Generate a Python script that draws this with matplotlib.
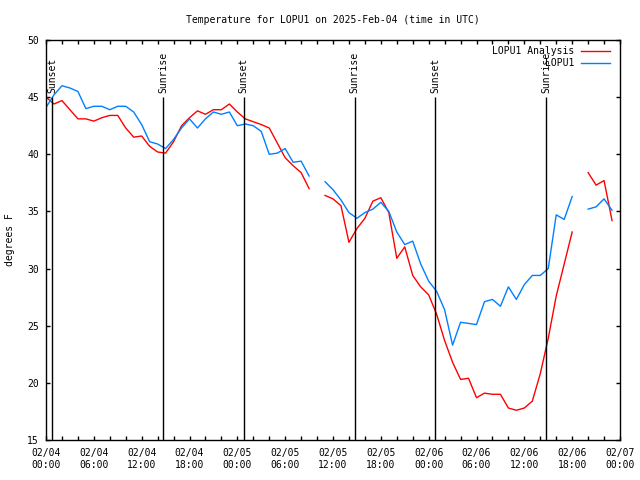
#!/usr/bin/env python3
"""
plot.py: hourly temperature for LOPU1, analysis vs station, with sun events.
"""

import numpy as np
import pandas as pd
import matplotlib
matplotlib.use("Agg")
import matplotlib.pyplot as plt
import matplotlib.dates as mdates

nan = np.nan

start = "2025-02-04 00:00"

# hourly values, degrees F (nan = missing hour)
analysis_f = [
    45.0, 44.4, 44.7, 43.9, 43.1, 43.1, 42.9, 43.2, 43.4, 43.4, 42.3, 41.5,
    41.6, 40.7, 40.2, 40.1, 41.1, 42.5, 43.2, 43.8, 43.5, 43.9, 43.9, 44.4,
    43.7, 43.1, 42.85, 42.6, 42.3, 41.0, 39.7, 39.0, 38.4, 37.0, nan, 36.4,
    36.1, 35.5, 32.3, 33.5, 34.4, 35.9, 36.2, 34.9, 30.9, 31.9, 29.4, 28.4,
    27.7, 26.0, 23.7, 21.8, 20.3, 20.4, 18.7, 19.1, 19.0, 19.0, 17.8, 17.6,
    17.8, 18.4, 20.8, 23.9, 27.6, 30.4, 33.2, nan, 38.4, 37.3, 37.7, 34.2,
]
station_f = [
    44.1, 45.2, 46.0, 45.8, 45.5, 44.0, 44.2, 44.2, 43.9, 44.2, 44.2, 43.7,
    42.6, 41.1, 40.9, 40.5, 41.3, 42.3, 43.1, 42.3, 43.1, 43.7, 43.5, 43.7,
    42.5, 42.65, 42.5, 42.0, 40.0, 40.1, 40.5, 39.3, 39.4, 38.1, nan, 37.6,
    36.9, 36.0, 34.9, 34.4, 34.9, 35.2, 35.8, 35.0, 33.2, 32.1, 32.4, 30.4,
    28.9, 28.0, 26.4, 23.3, 25.3, 25.2, 25.1, 27.1, 27.3, 26.7, 28.4, 27.3,
    28.6, 29.4, 29.4, 30.0, 34.7, 34.3, 36.3, nan, 35.2, 35.4, 36.1, 35.1,
]

sun_times = [
    "2025-02-04 00:47", "2025-02-04 14:43", "2025-02-05 00:47",
    "2025-02-05 14:42", "2025-02-06 00:49", "2025-02-06 14:46",
]
sun_labels = ["Sunset", "Sunrise", "Sunset", "Sunrise", "Sunset", "Sunrise"]

FONT = "DejaVu Sans Mono"
FS = 7

def main():
    plt.rcParams['font.family'] = FONT
    plt.rcParams['font.size'] = FS

    times = pd.date_range(start, periods=len(analysis_f), freq="h")
    suns = pd.to_datetime(sun_times)

    fig = plt.figure(figsize=(6.4, 4.8), dpi=100)
    ax = fig.add_axes([46 / 640, 40 / 480, 574 / 640, 400 / 480])

    ax.plot(times, analysis_f, color="#ff0000", lw=1.0, label="LOPU1 Analysis")
    ax.plot(times, station_f, color="#0080ff", lw=1.0, label="LOPU1")

    # sunrise / sunset markers
    ax.vlines(suns, 15, 45, color="black", lw=1.0)
    for t, lab in zip(suns, sun_labels):
        ax.text(t, 45.4, lab, rotation=90, ha="center", va="bottom", fontsize=FS)

    ax.set_xlim(pd.Timestamp("2025-02-04 00:00"), pd.Timestamp("2025-02-07 00:00"))
    ax.set_ylim(15, 50)
    ax.set_yticks(np.arange(15, 51, 5))
    ax.xaxis.set_major_locator(mdates.HourLocator(byhour=[0, 6, 12, 18]))
    ax.xaxis.set_minor_locator(mdates.HourLocator(interval=2))
    ax.xaxis.set_major_formatter(mdates.DateFormatter("%m/%d\n%H:%M"))

    ax.tick_params(which="both", direction="in", length=3, width=1,
                   top=True, right=True, labelsize=FS)
    ax.tick_params(axis="x", which="major", pad=6)
    ax.tick_params(axis="y", pad=5)
    for sp in ax.spines.values():
        sp.set_linewidth(1.0)

    ax.set_ylabel("degrees F", fontsize=FS)
    ax.yaxis.set_label_coords(-0.054, 0.5)

    fig.text(333 / 640, 1 - 20 / 480,
             "Temperature for LOPU1 on 2025-Feb-04 (time in UTC)",
             ha="center", va="center", fontsize=FS)

    ax.legend(loc="upper right", bbox_to_anchor=(1 - 10 / 574, 1 - 6 / 400),
              markerfirst=False, frameon=False, fontsize=FS,
              handlelength=3.0, handletextpad=0.7, labelspacing=0.25,
              borderaxespad=0, borderpad=0)

    fig.savefig("out.png", dpi=100)
    plt.close(fig)

if __name__ == "__main__":
    main()
